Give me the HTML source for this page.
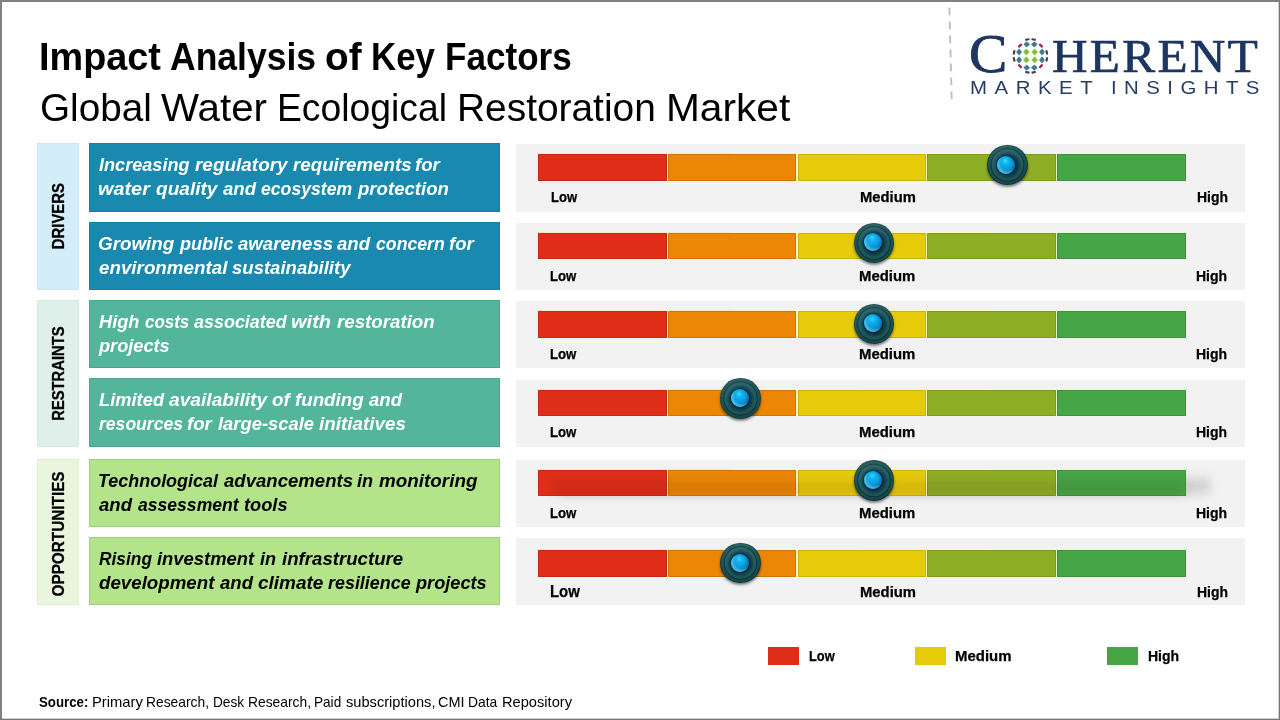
<!DOCTYPE html>
<html lang="en"><head><meta charset="utf-8"><title>Impact Analysis of Key Factors - Global Water Ecological Restoration Market</title>
<style>
html,body{margin:0;padding:0;background:#fff}
body{width:1280px;height:720px;position:relative;overflow:hidden;font-family:"Liberation Sans",sans-serif;color:#000}
h1,h2,p{margin:0;font-weight:normal}
#fr{position:absolute;left:0;top:0;width:1280px;height:720px;box-sizing:border-box;border-style:solid;border-color:#808080 #757575 #757575 #808080;border-width:2px 1px 1px 2px;box-shadow:inset -1px -1px 0 rgba(117,117,117,.32);z-index:9;pointer-events:none}
.b{position:absolute}
.t{position:absolute;left:0;top:0;white-space:pre;line-height:1;transform-origin:0 0}
.l span,.l b{position:absolute;top:0;transform-origin:0 0}
.ttl{font-size:39px}.tb{font-weight:bold}
.ft{font-size:19px;font-weight:bold;font-style:italic;color:#fff}
.c3 .ft{color:#000}
.catl{font-size:17.2px;font-weight:bold;-webkit-text-stroke:.3px #000}
.lb{font-size:14.2px;font-weight:bold;-webkit-text-stroke:.25px #000}
.lb6{font-size:16px}
.src{font-size:14.8px}
.lg{font-family:"Liberation Serif",serif;color:#1c3561}
.lgc{font-size:55.8px;-webkit-text-stroke:.9px #1c3561}
.lgh{font-size:46.5px;-webkit-text-stroke:.7px #1c3561}
.lgs{font-size:17.6px;color:#263c66}
.cat{box-shadow:inset 0 0 0 1px rgba(80,90,90,.05)}
.fac{box-shadow:inset 0 0 0 1px rgba(40,60,70,.13)}
.c1 .cat{background:#d3eef9}.c2 .cat{background:#dff0ea}.c3 .cat{background:#eaf5de}
.c1 .fac{background:#1a89b0}.c2 .fac{background:#53b59a}.c3 .fac{background:#b4e48a}
.pan{background:#f2f2f2}
.sg{box-shadow:inset 0 0 0 1px rgba(40,20,0,.14)}
.s1{background:#df2e18}.s2{background:#ec8605}.s3{background:#e6cb0a}.s4{background:#8eae26}.s5{background:#46a646}
.k{position:absolute;width:40.6px;height:40.6px;border-radius:50%;
 background:linear-gradient(165deg,rgba(255,255,255,.10) 0,rgba(255,255,255,0) 45%,rgba(0,0,0,.18) 100%),
 radial-gradient(circle closest-side at 50% 50%,#0c3346 0,#0c3346 46%,#0f4150 54%,#184f58 62%,#235f62 70%,#215c5e 77%,#0c363c 81.5%,#1a5254 86%,#1b5456 94%,#0d383c 100%);
 box-shadow:0 1.8px 2.6px rgba(0,0,0,.5)}
.k b{position:absolute;left:10.4px;top:10.8px;width:18px;height:18px;border-radius:50%;
 background:radial-gradient(circle at 46% 27%,#38d6ff 0,#14b2ee 20%,#0b98da 50%,#087aba 78%,#065e92 100%);
 box-shadow:0 0 1.6px rgba(0,20,40,.9),inset 2px -2.2px 2px rgba(120,225,255,.55),inset -1.5px 0 2px rgba(0,60,120,.35)}
</style></head>
<body>
<div id="fr"></div>
<header>
<h1 class="t l ttl tb" style="top:37px"><span style="left:38.83px;transform:scaleX(0.9699)">Impact</span> <span style="left:169.9px;transform:scaleX(0.9101)">Analysis</span> <span style="left:324.89px;transform:scaleX(0.9934)">of</span> <span style="left:370.92px;transform:scaleX(0.8950)">Key</span> <span style="left:444.69px;transform:scaleX(0.8999)">Factors</span></h1>
<p class="t l ttl" style="top:88px"><span style="left:39.52px;transform:scaleX(0.9924)">Global</span> <span style="left:161.41px;transform:scaleX(1.0337)">Water</span> <span style="left:277.23px;transform:scaleX(0.9558)">Ecological</span> <span style="left:457.23px;transform:scaleX(0.9968)">Restoration</span> <span style="left:665.94px;transform:scaleX(1.0425)">Market</span></p>
<div class="logo">
<svg class="b" style="left:0;top:0" width="1280" height="120" viewBox="0 0 1280 120"><line x1="949.4" y1="7.6" x2="951.7" y2="99.6" stroke="#bdbdbd" stroke-width="1.9" stroke-dasharray="7.7 6.3"/><circle cx="1030.5" cy="55.9" r="6" fill="#f4fbea"/><rect x="-2.35" y="-2.35" width="4.70" height="4.70" rx="0.7" fill="#86c043" transform="translate(1026.30 51.90) scale(1 1) rotate(45)"/><rect x="-2.35" y="-2.35" width="4.70" height="4.70" rx="0.7" fill="#86c043" transform="translate(1026.30 59.90) scale(1 1) rotate(45)"/><rect x="-2.35" y="-2.35" width="4.70" height="4.70" rx="0.7" fill="#86c043" transform="translate(1034.70 51.90) scale(1 1) rotate(45)"/><rect x="-2.35" y="-2.35" width="4.70" height="4.70" rx="0.7" fill="#86c043" transform="translate(1034.70 59.90) scale(1 1) rotate(45)"/><rect x="-2.45" y="-2.45" width="4.90" height="4.90" rx="0.7" fill="#3d7d92" transform="translate(1026.70 44.40) scale(1 0.9) rotate(45)"/><rect x="-2.45" y="-2.45" width="4.90" height="4.90" rx="0.7" fill="#41779a" transform="translate(1026.70 67.60) scale(1 0.9) rotate(45)"/><rect x="-2.45" y="-2.45" width="4.90" height="4.90" rx="0.7" fill="#3d7d92" transform="translate(1034.30 44.40) scale(1 0.9) rotate(45)"/><rect x="-2.45" y="-2.45" width="4.90" height="4.90" rx="0.7" fill="#41779a" transform="translate(1034.30 67.60) scale(1 0.9) rotate(45)"/><rect x="-2.45" y="-2.45" width="4.90" height="4.90" rx="0.7" fill="#3d7d92" transform="translate(1019.10 52.00) scale(0.85 1.05) rotate(45)"/><rect x="-2.45" y="-2.45" width="4.90" height="4.90" rx="0.7" fill="#3d7d92" transform="translate(1042.00 52.00) scale(0.85 1.05) rotate(45)"/><rect x="-2.45" y="-2.45" width="4.90" height="4.90" rx="0.7" fill="#3d7d92" transform="translate(1019.10 59.90) scale(0.85 1.05) rotate(45)"/><rect x="-2.45" y="-2.45" width="4.90" height="4.90" rx="0.7" fill="#3d7d92" transform="translate(1042.00 59.90) scale(0.85 1.05) rotate(45)"/><rect x="-2.35" y="-1.20" width="4.70" height="2.40" rx="0.9" fill="#a8245f" transform="translate(1020.05 45.60) rotate(-45)"/><rect x="-2.35" y="-1.20" width="4.70" height="2.40" rx="0.9" fill="#a8245f" transform="translate(1020.05 66.20) rotate(45)"/><rect x="-2.35" y="-1.20" width="4.70" height="2.40" rx="0.9" fill="#a8245f" transform="translate(1040.95 45.60) rotate(45)"/><rect x="-2.35" y="-1.20" width="4.70" height="2.40" rx="0.9" fill="#a8245f" transform="translate(1040.95 66.20) rotate(-45)"/><rect x="-2.30" y="-1.10" width="4.60" height="2.20" rx="0.9" fill="#4a3f55" transform="translate(1027.30 39.50) rotate(-11)"/><rect x="-2.30" y="-1.10" width="4.60" height="2.20" rx="0.9" fill="#4a3f55" transform="translate(1027.30 72.30) rotate(11)"/><rect x="-1.10" y="-2.30" width="2.20" height="4.60" rx="0.9" fill="#4a3f55" transform="translate(1014.10 52.40) rotate(12)"/><rect x="-1.10" y="-2.30" width="2.20" height="4.60" rx="0.9" fill="#4a3f55" transform="translate(1046.80 52.40) rotate(-12)"/><rect x="-2.30" y="-1.10" width="4.60" height="2.20" rx="0.9" fill="#4a3f55" transform="translate(1033.70 39.50) rotate(11)"/><rect x="-2.30" y="-1.10" width="4.60" height="2.20" rx="0.9" fill="#4a3f55" transform="translate(1033.70 72.30) rotate(-11)"/><rect x="-1.10" y="-2.30" width="2.20" height="4.60" rx="0.9" fill="#4a3f55" transform="translate(1014.10 59.40) rotate(-12)"/><rect x="-1.10" y="-2.30" width="2.20" height="4.60" rx="0.9" fill="#4a3f55" transform="translate(1046.80 59.40) rotate(12)"/></svg>
<div class="t lg lgc" style="left:969.34px;top:26px;transform:scaleX(1.0281);">C</div>
<div class="t lg lgh" style="left:1052.03px;top:34px;transform:scaleX(1.0582);letter-spacing:2.2px;">HERENT</div>
<span class="t lgs" style="left:969.76px;top:80px;letter-spacing:6.48px;transform:scaleX(1.16)">MARKET</span>
<span class="t lgs" style="left:1111.27px;top:80px;letter-spacing:6.41px;transform:scaleX(1.16)">INSIGHTS</span>
</div>
</header>
<main>
<section class="c1">
<div class="b cat" style="left:37px;top:143px;width:41.75px;height:147px;"></div>
<h2 class="t catl" style="transform:translate(50.44px,249.18px) rotate(-90deg) scaleX(0.8658)">DRIVERS</h2>
<article>
<div class="b fac" style="left:89px;top:143px;width:411px;height:69px;"></div>
<p class="t l ft" style="top:155px"><span style="left:99.46px;transform:scaleX(0.9524)">Increasing</span> <span style="left:194.95px;transform:scaleX(0.9973)">regulatory</span> <span style="left:292.7px;transform:scaleX(0.9854)">requirements</span> <span style="left:415.46px;transform:scaleX(0.9804)">for</span></p>
<p class="t l ft" style="top:179px"><span style="left:98.4px;transform:scaleX(1.0455)">water</span> <span style="left:155.7px;transform:scaleX(1.0041)">quality</span> <span style="left:222.7px;transform:scaleX(0.9779)">and</span> <span style="left:260.99px;transform:scaleX(0.9278)">ecosystem</span> <span style="left:357.69px;transform:scaleX(0.9783)">protection</span></p>
<div class="b pan" style="left:516px;top:144px;width:729px;height:67.7px;"></div>
<div class="b " style="left:538px;top:153.4px;width:194px;height:28px;background:#fde9c6;"></div>
<div class="b " style="left:732px;top:153.4px;width:130px;height:28px;background:#fff8cc;"></div>
<div class="b " style="left:862px;top:153.4px;width:129px;height:28px;background:#ffffba;"></div>
<div class="b " style="left:991px;top:153.4px;width:195px;height:28px;background:#e6ffd6;"></div>
<div class="b sg s1" style="left:538px;top:154px;width:129px;height:26.8px;"></div>
<div class="b sg s2" style="left:668px;top:154px;width:128px;height:26.8px;"></div>
<div class="b sg s3" style="left:798px;top:154px;width:128px;height:26.8px;"></div>
<div class="b sg s4" style="left:927px;top:154px;width:129px;height:26.8px;"></div>
<div class="b sg s5" style="left:1057px;top:154px;width:129px;height:26.8px;"></div>
<div class="t lb" style="left:551.28px;top:190px;transform:scaleX(0.9211);">Low</div>
<div class="t lb" style="left:860.01px;top:190px;transform:scaleX(1.0406);">Medium</div>
<div class="t lb" style="left:1197.02px;top:190px;transform:scaleX(0.9815);">High</div>
<div class="k" style="left:987px;top:144.8px"><b></b></div>
</article>
<article>
<div class="b fac" style="left:89px;top:222px;width:411px;height:68px;"></div>
<p class="t l ft" style="top:234px"><span style="left:98.46px;transform:scaleX(0.9901)">Growing</span> <span style="left:179.94px;transform:scaleX(0.9507)">public</span> <span style="left:237.7px;transform:scaleX(0.9793)">awareness</span> <span style="left:337.45px;transform:scaleX(0.9779)">and</span> <span style="left:375.73px;transform:scaleX(0.9310)">concern</span> <span style="left:449.21px;transform:scaleX(0.9804)">for</span></p>
<p class="t l ft" style="top:258px"><span style="left:98.71px;transform:scaleX(0.9884)">environmental</span> <span style="left:232.21px;transform:scaleX(0.9754)">sustainability</span></p>
<div class="b pan" style="left:516px;top:223.3px;width:729px;height:66.4px;"></div>
<div class="b " style="left:538px;top:232.4px;width:194px;height:27px;background:#fde9c6;"></div>
<div class="b " style="left:732px;top:232.4px;width:130px;height:27px;background:#fff8cc;"></div>
<div class="b " style="left:862px;top:232.4px;width:129px;height:27px;background:#ffffba;"></div>
<div class="b " style="left:991px;top:232.4px;width:195px;height:27px;background:#e6ffd6;"></div>
<div class="b sg s1" style="left:538px;top:233px;width:129px;height:25.8px;"></div>
<div class="b sg s2" style="left:668px;top:233px;width:128px;height:25.8px;"></div>
<div class="b sg s3" style="left:798px;top:233px;width:128px;height:25.8px;"></div>
<div class="b sg s4" style="left:927px;top:233px;width:129px;height:25.8px;"></div>
<div class="b sg s5" style="left:1057px;top:233px;width:129px;height:25.8px;"></div>
<div class="t lb" style="left:550.07px;top:269px;transform:scaleX(0.9284);">Low</div>
<div class="t lb" style="left:858.75px;top:269px;transform:scaleX(1.0512);">Medium</div>
<div class="t lb" style="left:1195.92px;top:269px;transform:scaleX(0.9849);">High</div>
<div class="k" style="left:853.9px;top:222.5px"><b></b></div>
</article>
</section>
<section class="c2">
<div class="b cat" style="left:37px;top:300px;width:41.75px;height:147px;"></div>
<h2 class="t catl" style="transform:translate(50.44px,420.77px) rotate(-90deg) scaleX(0.8583)">RESTRAINTS</h2>
<article>
<div class="b fac" style="left:89px;top:300px;width:411px;height:68px;"></div>
<p class="t l ft" style="top:312px"><span style="left:99.21px;transform:scaleX(0.9576)">High</span> <span style="left:144.75px;transform:scaleX(0.8918)">costs</span> <span style="left:193.7px;transform:scaleX(0.9442)">associated</span> <span style="left:291.39px;transform:scaleX(1.0552)">with</span> <span style="left:336.7px;transform:scaleX(0.9847)">restoration</span></p>
<p class="t l ft" style="top:336px"><span style="left:99.19px;transform:scaleX(0.9558)">projects</span></p>
<div class="b pan" style="left:516px;top:301.3px;width:729px;height:67px;"></div>
<div class="b " style="left:538px;top:310.4px;width:194px;height:28px;background:#fde9c6;"></div>
<div class="b " style="left:732px;top:310.4px;width:130px;height:28px;background:#fff8cc;"></div>
<div class="b " style="left:862px;top:310.4px;width:129px;height:28px;background:#ffffba;"></div>
<div class="b " style="left:991px;top:310.4px;width:195px;height:28px;background:#e6ffd6;"></div>
<div class="b sg s1" style="left:538px;top:311px;width:129px;height:26.8px;"></div>
<div class="b sg s2" style="left:668px;top:311px;width:128px;height:26.8px;"></div>
<div class="b sg s3" style="left:798px;top:311px;width:128px;height:26.8px;"></div>
<div class="b sg s4" style="left:927px;top:311px;width:129px;height:26.8px;"></div>
<div class="b sg s5" style="left:1057px;top:311px;width:129px;height:26.8px;"></div>
<div class="t lb" style="left:550.07px;top:347px;transform:scaleX(0.9284);">Low</div>
<div class="t lb" style="left:858.75px;top:347px;transform:scaleX(1.0512);">Medium</div>
<div class="t lb" style="left:1195.92px;top:347px;transform:scaleX(0.9849);">High</div>
<div class="k" style="left:853.9px;top:303.7px"><b></b></div>
</article>
<article>
<div class="b fac" style="left:89px;top:378px;width:411px;height:69px;"></div>
<p class="t l ft" style="top:390px"><span style="left:98.96px;transform:scaleX(0.9630)">Limited</span> <span style="left:169.45px;transform:scaleX(1.0102)">availability</span> <span style="left:272.46px;transform:scaleX(0.9868)">of</span> <span style="left:295.21px;transform:scaleX(0.9854)">funding</span> <span style="left:368.95px;transform:scaleX(0.9779)">and</span></p>
<p class="t l ft" style="top:414px"><span style="left:98.97px;transform:scaleX(0.9250)">resources</span> <span style="left:187.21px;transform:scaleX(0.9804)">for</span> <span style="left:217.96px;transform:scaleX(0.9670)">large-scale</span> <span style="left:319.2px;transform:scaleX(0.9914)">initiatives</span></p>
<div class="b pan" style="left:516px;top:379.7px;width:729px;height:67px;"></div>
<div class="b " style="left:538px;top:389.4px;width:194px;height:27px;background:#fde9c6;"></div>
<div class="b " style="left:732px;top:389.4px;width:130px;height:27px;background:#fff8cc;"></div>
<div class="b " style="left:862px;top:389.4px;width:129px;height:27px;background:#ffffba;"></div>
<div class="b " style="left:991px;top:389.4px;width:195px;height:27px;background:#e6ffd6;"></div>
<div class="b sg s1" style="left:538px;top:390px;width:129px;height:25.8px;"></div>
<div class="b sg s2" style="left:668px;top:390px;width:128px;height:25.8px;"></div>
<div class="b sg s3" style="left:798px;top:390px;width:128px;height:25.8px;"></div>
<div class="b sg s4" style="left:927px;top:390px;width:129px;height:25.8px;"></div>
<div class="b sg s5" style="left:1057px;top:390px;width:129px;height:25.8px;"></div>
<div class="t lb" style="left:550.07px;top:425px;transform:scaleX(0.9284);">Low</div>
<div class="t lb" style="left:858.75px;top:425px;transform:scaleX(1.0512);">Medium</div>
<div class="t lb" style="left:1195.92px;top:425px;transform:scaleX(0.9849);">High</div>
<div class="k" style="left:720.2px;top:378.3px"><b></b></div>
</article>
</section>
<section class="c3">
<div class="b cat" style="left:37px;top:459px;width:41.75px;height:146px;"></div>
<h2 class="t catl" style="transform:translate(50.44px,596.47px) rotate(-90deg) scaleX(0.8906)">OPPORTUNITIES</h2>
<article>
<div class="b fac" style="left:89px;top:459px;width:411px;height:68px;"></div>
<p class="t l ft" style="top:471px"><span style="left:98.28px;transform:scaleX(0.9443)">Technological</span> <span style="left:223.95px;transform:scaleX(0.9771)">advancements</span> <span style="left:357.46px;transform:scaleX(0.9524)">in</span> <span style="left:378.7px;transform:scaleX(0.9924)">monitoring</span></p>
<p class="t l ft" style="top:495px"><span style="left:99.2px;transform:scaleX(0.9779)">and</span> <span style="left:137.7px;transform:scaleX(0.9247)">assessment</span> <span style="left:243.73px;transform:scaleX(0.9602)">tools</span></p>
<div class="b pan" style="left:516px;top:460px;width:729px;height:66.7px;"></div>
<div class="b" style="left:560px;top:478px;width:650px;height:16px;background:rgba(60,50,50,.17);filter:blur(5px)"></div>
<div class="b " style="left:538px;top:469.4px;width:194px;height:27px;background:#fde9c6;"></div>
<div class="b " style="left:732px;top:469.4px;width:130px;height:27px;background:#fff8cc;"></div>
<div class="b " style="left:862px;top:469.4px;width:129px;height:27px;background:#ffffba;"></div>
<div class="b " style="left:991px;top:469.4px;width:195px;height:27px;background:#e6ffd6;"></div>
<div class="b sg s1" style="left:538px;top:470px;width:129px;height:25.8px;"></div>
<div class="b sg s2" style="left:668px;top:470px;width:128px;height:25.8px;"></div>
<div class="b sg s3" style="left:798px;top:470px;width:128px;height:25.8px;"></div>
<div class="b sg s4" style="left:927px;top:470px;width:129px;height:25.8px;"></div>
<div class="b sg s5" style="left:1057px;top:470px;width:129px;height:25.8px;"></div>
<div class="b" style="left:553px;top:481px;width:633px;height:14.8px;background:rgba(70,20,10,.11);filter:blur(4px)"></div>
<div class="t lb" style="left:550.07px;top:506px;transform:scaleX(0.9284);">Low</div>
<div class="t lb" style="left:858.75px;top:506px;transform:scaleX(1.0512);">Medium</div>
<div class="t lb" style="left:1195.92px;top:506px;transform:scaleX(0.9849);">High</div>
<div class="k" style="left:853.9px;top:460px"><b></b></div>
</article>
<article>
<div class="b fac" style="left:89px;top:537px;width:411px;height:68px;"></div>
<p class="t l ft" style="top:549px"><span style="left:99.22px;transform:scaleX(0.9123)">Rising</span> <span style="left:157.41px;transform:scaleX(0.9694)">investment</span> <span style="left:260.33px;transform:scaleX(0.9516)">in</span> <span style="left:281.8px;transform:scaleX(0.9809)">infrastructure</span></p>
<p class="t l ft" style="top:573px"><span style="left:98.71px;transform:scaleX(0.9851)">development</span> <span style="left:219.7px;transform:scaleX(0.9779)">and</span> <span style="left:257.95px;transform:scaleX(1.0000)">climate</span> <span style="left:328.46px;transform:scaleX(0.9425)">resilience</span> <span style="left:416.44px;transform:scaleX(0.9558)">projects</span></p>
<div class="b pan" style="left:516px;top:538.3px;width:729px;height:67.2px;"></div>
<div class="b " style="left:538px;top:549.4px;width:194px;height:28px;background:#fde9c6;"></div>
<div class="b " style="left:732px;top:549.4px;width:130px;height:28px;background:#fff8cc;"></div>
<div class="b " style="left:862px;top:549.4px;width:129px;height:28px;background:#ffffba;"></div>
<div class="b " style="left:991px;top:549.4px;width:195px;height:28px;background:#e6ffd6;"></div>
<div class="b sg s1" style="left:538px;top:550px;width:129px;height:26.8px;"></div>
<div class="b sg s2" style="left:668px;top:550px;width:128px;height:26.8px;"></div>
<div class="b sg s3" style="left:798px;top:550px;width:128px;height:26.8px;"></div>
<div class="b sg s4" style="left:927px;top:550px;width:129px;height:26.8px;"></div>
<div class="b sg s5" style="left:1057px;top:550px;width:129px;height:26.8px;"></div>
<div class="t lb lb6" style="left:550.07px;top:584px;transform:scaleX(0.9323);">Low</div>
<div class="t lb" style="left:859.75px;top:585px;transform:scaleX(1.0454);">Medium</div>
<div class="t lb" style="left:1197.02px;top:585px;transform:scaleX(0.9815);">High</div>
<div class="k" style="left:720.2px;top:542.8px"><b></b></div>
</article>
</section>
</main>
<aside class="legend">
<div class="b s1" style="left:768px;top:647px;width:31px;height:18px;"></div>
<div class="t lb" style="left:809.49px;top:649px;transform:scaleX(0.9064);">Low</div>
<div class="b s3" style="left:915px;top:647px;width:31px;height:18px;"></div>
<div class="t lb" style="left:954.75px;top:649px;transform:scaleX(1.0531);">Medium</div>
<div class="b s5" style="left:1107px;top:647px;width:31px;height:18px;"></div>
<div class="t lb" style="left:1147.51px;top:649px;transform:scaleX(0.9882);">High</div>
</aside>
<footer>
<p class="t l src" style="top:695px"><b style="left:38.95px;transform:scaleX(0.8967)">Source:</b> <span style="left:91.9px;transform:scaleX(1.0000)">Primary</span> <span style="left:146.48px;transform:scaleX(0.9344)">Research,</span> <span style="left:212.75px;transform:scaleX(0.9231)">Desk</span> <span style="left:247.73px;transform:scaleX(0.9344)">Research,</span> <span style="left:314.25px;transform:scaleX(0.9182)">Paid</span> <span style="left:345.66px;transform:scaleX(0.9887)">subscriptions,</span> <span style="left:438.41px;transform:scaleX(0.9800)">CMI</span> <span style="left:468.48px;transform:scaleX(0.9333)">Data</span> <span style="left:502.16px;transform:scaleX(0.9892)">Repository</span></p>
</footer>
</body></html>
